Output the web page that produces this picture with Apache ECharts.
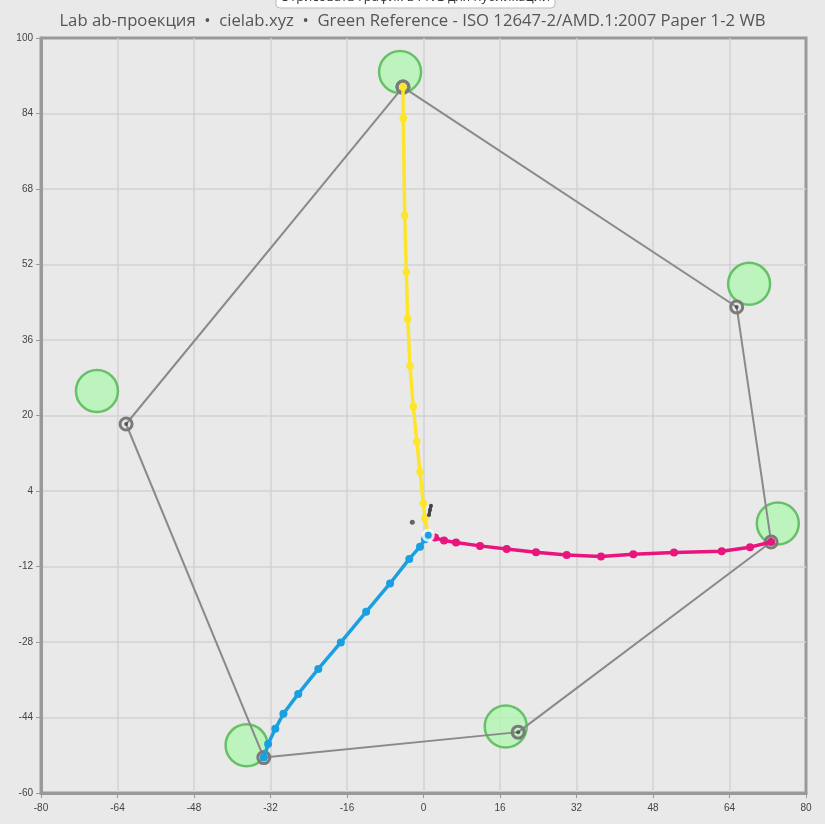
<!DOCTYPE html>
<html>
<head>
<meta charset="utf-8">
<script src="https://cdn.jsdelivr.net/npm/echarts@6/dist/echarts.min.js"></script>
<style>
html,body{margin:0;padding:0;background:#e9e9e9;}
#c{width:825px;height:824px;}
</style>
</head>
<body>
<div id="c"></div>
<script>
// ---- data (a, b) ----
var xTicks = [-80,-64,-48,-32,-16,0,16,32,48,64,80];
var yTicks = [-60,-44,-28,-12,4,20,36,52,68,84,100];
var paperWhite = [[1.0,-5.4]];
var yellowData = [[1.0,-5.4],[0.31,-1.76],[-0.04,1.4],[-0.73,8.1],[-1.42,14.5],[-2.13,21.9],[-2.82,30.5],[-3.3,40.5],[-3.6,50.4],[-3.93,62.4],[-4.22,83.0],[-4.3,89.6]];
var magentaData = [[1.0,-5.4],[2.41,-5.87],[4.29,-6.5],[6.8,-6.93],[11.82,-7.63],[17.4,-8.27],[23.53,-8.96],[29.95,-9.54],[37.13,-9.9],[43.88,-9.39],[52.4,-9.04],[62.37,-8.75],[68.3,-7.9],[72.7,-6.8]];
var cyanData = [[1.0,-5.4],[0.31,-6.2],[-0.73,-7.8],[-2.97,-10.4],[-7.0,-15.6],[-12.0,-21.6],[-17.3,-28.1],[-22.0,-33.7],[-26.2,-39.0],[-29.3,-43.2],[-31.0,-46.4],[-32.5,-49.6],[-33.4,-52.5]];
var gamutData = [[-4.3,89.6],[65.5,43.0],[72.7,-6.8],[19.8,-47.1],[-33.4,-52.5],[-62.2,18.2],[-4.3,89.6]];
var overprintData = [[65.5,43.0],[19.8,-47.1],[-62.2,18.2]];
var referenceData = [[-4.9,92.8],[68.1,47.9],[74.1,-2.9],[17.2,-45.9],[-37.0,-49.9],[-68.3,25.2]];
var grayData = [[1.57,0.85],[1.35,0],[1.15,-1.06]];
var grayDot = [[-2.34,-2.6]];

var chart = echarts.init(document.getElementById('c'));
var labelFont = {fontSize:10, color:'#444', fontFamily:'Liberation Sans Narrow, Liberation Sans, sans-serif'};
var split = {show:true, showMinLine:false, showMaxLine:false, lineStyle:{color:'#d2d2d2', width:1.5}};
chart.setOption({
  backgroundColor:'#e9e9e9',
  animation:false,
  title:{
    text:'Lab ab-проекция  •  cielab.xyz  •  Green Reference - ISO 12647-2/AMD.1:2007 Paper 1-2 WB',
    left:'center', top:8,
    textStyle:{fontSize:16.7, fontWeight:'normal', color:'#555', fontFamily:'Open Sans, sans-serif'}
  },
  graphic:[
    {type:'rect', shape:{x:276,y:-22,width:279,height:30,r:4}, style:{fill:'#fff',stroke:'#bbb',lineWidth:1}, z:100},
    {type:'text', x:415, y:-3, style:{text:'Отрисовать график в PNG для публикации', fontSize:13, fill:'#333', align:'center', verticalAlign:'middle', fontFamily:'Open Sans, sans-serif'}, z:101}
  ],
  grid:{left:41, right:19, top:38, bottom:31, show:true, borderColor:'#999', borderWidth:3, backgroundColor:'transparent'},
  xAxis:{
    type:'value', min:-80, max:80, interval:16,
    axisLine:{show:true, onZero:false, lineStyle:{color:'#999', width:3}},
    axisTick:{show:true, length:5, lineStyle:{color:'#999'}},
    axisLabel:Object.assign({margin:10}, labelFont),
    splitLine:split
  },
  yAxis:{
    type:'value', min:-60, max:100, interval:16,
    axisLine:{show:true, onZero:false, lineStyle:{color:'#999', width:3}},
    axisTick:{show:true, length:5, lineStyle:{color:'#999'}},
    axisLabel:Object.assign({margin:8}, labelFont),
    splitLine:split
  },
  series:[
    {type:'scatter', data:referenceData, symbolSize:42, z:1,
      itemStyle:{color:'#b2f5b2', borderColor:'#4cb54c', borderWidth:2.5}},
    {type:'line', data:gamutData, symbol:'circle', symbolSize:12, z:2,
      lineStyle:{color:'#8a8a8a', width:2},
      itemStyle:{color:'rgba(0,0,0,0)', borderColor:'#7a7a7a', borderWidth:3}},
    {type:'scatter', data:overprintData, symbolSize:4, z:3, itemStyle:{color:'#444'}},
    {type:'line', data:yellowData, symbol:'circle', symbolSize:7.5, z:4,
      lineStyle:{color:'#fce52a', width:3.5}, itemStyle:{color:'#fce52a'}},
    {type:'line', data:magentaData, symbol:'circle', symbolSize:8, z:4,
      lineStyle:{color:'#e8157d', width:3.5}, itemStyle:{color:'#e8157d'}},
    {type:'line', data:cyanData, symbol:'circle', symbolSize:8, z:4,
      lineStyle:{color:'#1aa0e0', width:3.5}, itemStyle:{color:'#1aa0e0'}},
    {type:'line', data:grayData, symbol:'circle', symbolSize:4, z:5,
      lineStyle:{color:'#444', width:3}, itemStyle:{color:'#444'}},
    {type:'scatter', data:grayDot, symbolSize:5, z:5, itemStyle:{color:'#444'}},
    {type:'scatter', data:paperWhite, symbolSize:10, z:6,
      itemStyle:{color:'#1aa0e0', borderColor:'#fff', borderWidth:3}}
  ]
});
</script>
</body>
</html>
